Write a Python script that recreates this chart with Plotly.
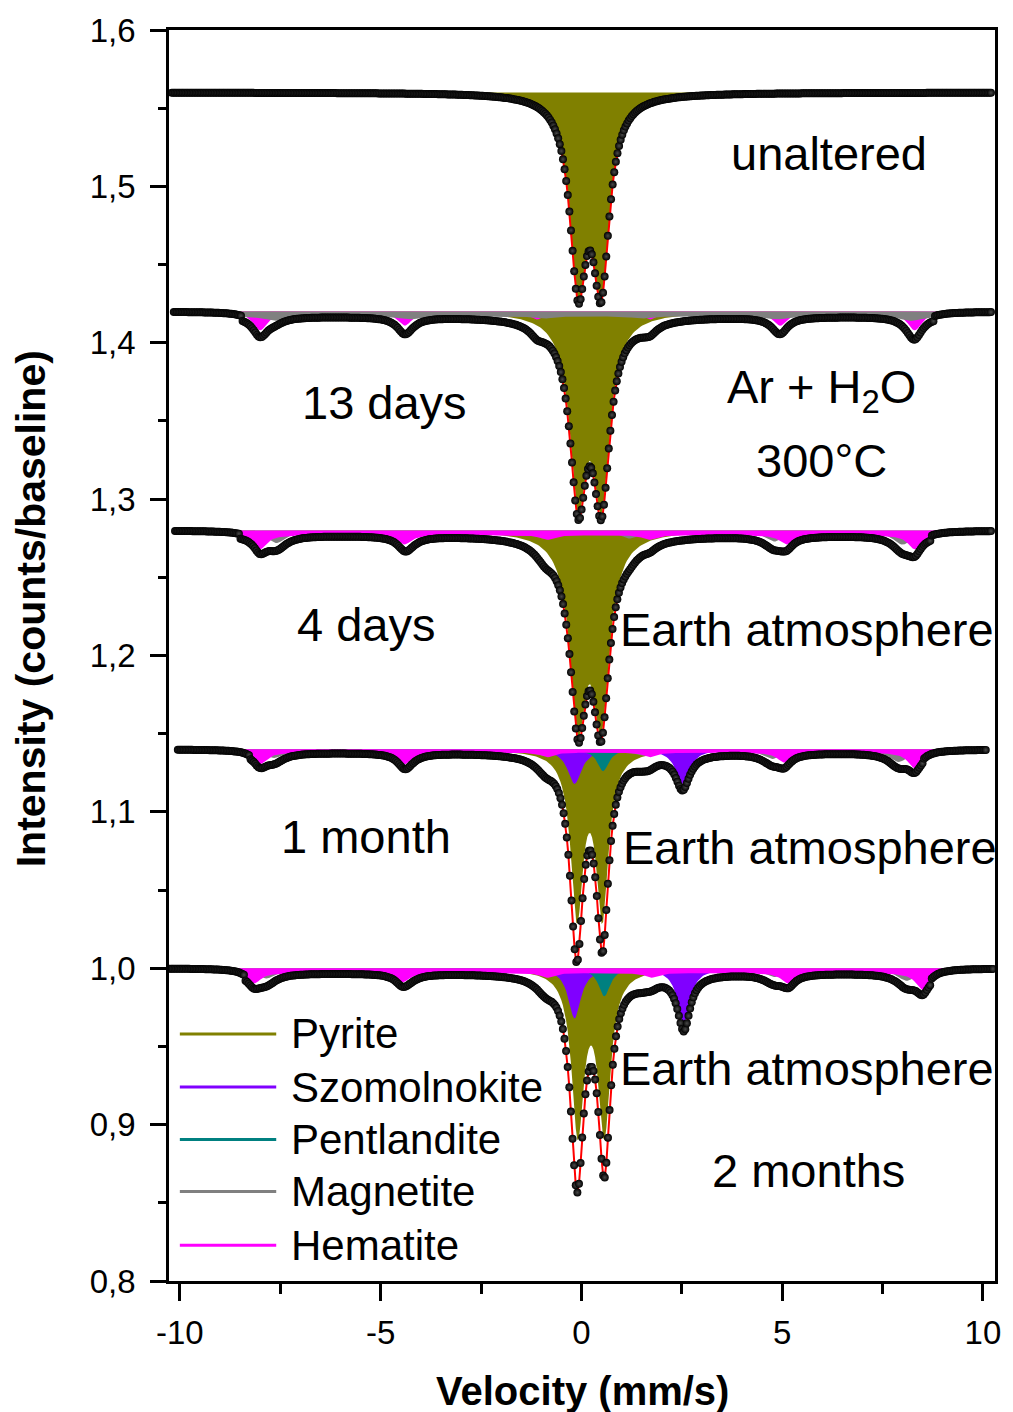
import numpy as np
import plotly.graph_objects as go

# ---------------------------------------------------------------------------
# Mössbauer spectra of the samples, stacked with a vertical offset
# ---------------------------------------------------------------------------
SAMPLES = ["unaltered", "13 days", "4 days", "1 month", "2 months"]
BASELINE = [1.56, 1.42, 1.28, 1.14, 1.00]
V_START = [-10.20, -10.15, -10.12, -10.05, -10.25]
V_END = [10.20, 10.20, 10.20, 10.07, 10.25]
N_CHANNELS = 512

# Fitted sub-spectra: line centres (mm/s), depths (relative), FWHM (mm/s)
PYRITE_CENTERS = [[-0.08, 0.49], [-0.08, 0.50], [-0.08, 0.49], [-0.11, 0.52], [-0.09, 0.57]]
PYRITE_DEPTH = [[0.116, 0.116], [0.112, 0.112], [0.113, 0.113], [0.104, 0.104], [0.103, 0.103]]
PYRITE_FWHM = [0.50, 0.50, 0.50, 0.37, 0.37]

SZOM_CENTERS = [[], [], [], [-0.17, 2.52], [-0.17, 2.55]]
SZOM_DEPTH = [[], [], [], [0.022, 0.022], [0.032, 0.035]]
SZOM_FWHM = [0, 0, 0, 0.42, 0.38]

PENT_CENTERS = [[], [], [], [0.54], [0.57]]
PENT_DEPTH = [[], [], [], [0.014], [0.018]]
PENT_FWHM = [0, 0, 0, 0.35, 0.35]

MAG_CENTERS = [
    [],
    [-7.65, -4.30, -0.95, 1.50, 4.86, 8.20],
    [-7.60, -4.30, -0.95, 1.20, 4.80, 8.00],
    [-7.65, -4.30, -0.95, 1.50, 4.75, 7.90],
    [-7.85, -4.30, -0.95, 1.50, 4.80, 8.10],
]
MAG_DEPTH = [
    [],
    [0.003, 0.002, 0.0015, 0.0015, 0.002, 0.003],
    [0.008, 0.004, 0.005, 0.005, 0.007, 0.009],
    [0.0055, 0.003, 0.004, 0.004, 0.006, 0.008],
    [0.0065, 0.003, 0.004, 0.004, 0.0055, 0.008],
]
MAG_FWHM = [0, 0.6, 0.6, 0.6, 0.6]
MAG_FLAT = [0, 0.003, 0, 0, 0]
MAG_FLAT_SPAN = [(0, 0), (-8.44, 8.77), (0, 0), (0, 0), (0, 0)]

HEM_CENTERS = [
    [],
    [-8.00, -4.40, -1.10, 1.70, 4.95, 8.30],
    [-8.00, -4.40, -0.85, 1.70, 5.10, 8.30],
    [-8.00, -4.40, -0.85, 1.70, 5.05, 8.30],
    [-8.15, -4.45, -0.85, 1.75, 5.15, 8.50],
]
HEM_DEPTH = [
    [],
    [0.012, 0.009, 0.005, 0.005, 0.009, 0.012],
    [0.009, 0.006, 0.003, 0.003, 0.006, 0.009],
    [0.0075, 0.0075, 0.003, 0.003, 0.0065, 0.010],
    [0.0067, 0.006, 0.003, 0.003, 0.0067, 0.011],
]
HEM_FWHM = [0, 0.45, 0.40, 0.40, 0.40]
HEM_FLAT = [0, 0, 0.003, 0.002, 0.003]
HEM_FLAT_SPAN = [(0, 0), (0, 0), (-8.50, 8.70), (-8.27, 8.50), (-8.40, 8.70)]

PHASES = ["Pyrite", "Szomolnokite", "Pentlandite", "Magnetite", "Hematite"]
PHASE_COLORS = ["#808000", "#8000ff", "#008080", "#808080", "#ff00ff"]
# stacking order of the filled sub-spectra for each sample
DRAW_ORDER = [
    ["Pyrite"],
    ["Pyrite", "Hematite", "Magnetite"],
    ["Pyrite", "Magnetite", "Hematite"],
    ["Pyrite", "Szomolnokite", "Pentlandite", "Magnetite", "Hematite"],
    ["Pyrite", "Szomolnokite", "Pentlandite", "Magnetite", "Hematite"],
]

X_TICKS = [-10, -5, 0, 5, 10]
X_TICK_TEXT = ["-10", "-5", "0", "5", "10"]

FONT = "Liberation Sans, Arial, sans-serif"


def lorentzians(v, centers, depths, fwhm):
    out = np.zeros_like(v)
    if not centers:
        return out
    hw = fwhm / 2.0
    for c, d in zip(centers, depths):
        out += d * hw ** 2 / ((v - c) ** 2 + hw ** 2)
    return out


def flat(v, depth, span):
    return np.where((v >= span[0]) & (v <= span[1]), depth, 0.0)


def absorption(phase, i, v):
    if phase == "Pyrite":
        return lorentzians(v, PYRITE_CENTERS[i], PYRITE_DEPTH[i], PYRITE_FWHM[i])
    if phase == "Szomolnokite":
        return lorentzians(v, SZOM_CENTERS[i], SZOM_DEPTH[i], SZOM_FWHM[i])
    if phase == "Pentlandite":
        return lorentzians(v, PENT_CENTERS[i], PENT_DEPTH[i], PENT_FWHM[i])
    if phase == "Magnetite":
        return (lorentzians(v, MAG_CENTERS[i], MAG_DEPTH[i], MAG_FWHM[i])
                + flat(v, MAG_FLAT[i], MAG_FLAT_SPAN[i]))
    return (lorentzians(v, HEM_CENTERS[i], HEM_DEPTH[i], HEM_FWHM[i])
            + flat(v, HEM_FLAT[i], HEM_FLAT_SPAN[i]))


fig = go.Figure()

for i, name in enumerate(SAMPLES):
    v = np.linspace(V_START[i], V_END[i], N_CHANNELS)
    base = BASELINE[i]
    total = np.zeros_like(v)
    for phase in PHASES:
        total += absorption(phase, i, v)

    # filled sub-spectra hanging from the baseline
    for phase in DRAW_ORDER[i]:
        comp = absorption(phase, i, v)
        if comp.max() <= 0:
            continue
        color = PHASE_COLORS[PHASES.index(phase)]
        xs = np.concatenate([[v[0]], v, [v[-1]]])
        ys = np.concatenate([[base], base - comp, [base]])
        fig.add_trace(go.Scatter(
            x=xs, y=ys, mode="lines", fill="toself", fillcolor=color,
            line=dict(width=0, color=color), hoverinfo="skip", showlegend=False,
        ))

    fit = base - total
    # envelope of the fit
    fig.add_trace(go.Scatter(
        x=v, y=fit, mode="lines", line=dict(color="#ff0000", width=2),
        hoverinfo="skip", showlegend=False,
    ))
    # measured counts
    fig.add_trace(go.Scatter(
        x=v, y=fit, mode="markers", name=name,
        marker=dict(size=8, color="#000000", line=dict(width=0),
                    gradient=dict(type="radial", color="#4a4a4a")),
        showlegend=False,
    ))

# Legend drawn as line samples with labels inside the plot
LEGEND_ROWS_Y = [0.958, 0.924, 0.8905, 0.8573, 0.8229]
shapes = []
annotations = []
for phase, color, yy in zip(PHASES, PHASE_COLORS, LEGEND_ROWS_Y):
    shapes.append(dict(type="line", xref="x", yref="y", x0=-10.0, x1=-7.6,
                       y0=yy, y1=yy, line=dict(color=color, width=3)))
    annotations.append(dict(x=-7.28, y=yy, xref="x", yref="y", text=phase,
                            showarrow=False, xanchor="left", yanchor="middle",
                            font=dict(family=FONT, size=42, color="black")))

LABELS = [
    ("unaltered", 6.17, 1.521),
    ("13 days", -4.91, 1.362),
    ("Ar + H<sub>2</sub>O", 5.98, 1.370),
    ("300°C", 5.98, 1.325),
    ("4 days", -5.36, 1.220),
    ("Earth atmosphere", 5.63, 1.2166),
    ("1 month", -5.36, 1.084),
    ("Earth atmosphere", 5.70, 1.077),
    ("Earth atmosphere", 5.63, 0.9357),
    ("2 months", 5.66, 0.8707),
]
for text, xx, yy in LABELS:
    annotations.append(dict(x=xx, y=yy, xref="x", yref="y", text=text,
                            showarrow=False, xanchor="center", yanchor="middle",
                            font=dict(family=FONT, size=47, color="black")))

# axis titles
annotations.append(dict(x=-0.167, y=0.537, xref="paper", yref="paper",
                        text="Intensity (counts/baseline)", textangle=-90,
                        showarrow=False, xanchor="center", yanchor="middle",
                        font=dict(family=FONT, size=41, color="black", weight="bold")))
annotations.append(dict(x=0.5, y=-0.0876, xref="paper", yref="paper",
                        text="Velocity (mm/s)", showarrow=False,
                        xanchor="center", yanchor="middle",
                        font=dict(family=FONT, size=40, color="black", weight="bold")))

fig.update_layout(
    width=1013, height=1412,
    margin=dict(l=169, r=12, t=26, b=131),
    paper_bgcolor="white", plot_bgcolor="white",
    separators=", ",
    showlegend=False,
    shapes=shapes,
    annotations=annotations,
    font=dict(family=FONT, color="black"),
)
fig.update_xaxes(
    range=[-10.27, 10.30], showgrid=False, zeroline=False,
    showline=True, linecolor="black", linewidth=2.5, mirror=True,
    ticks="outside", ticklen=17, tickwidth=2.5, tickcolor="black",
    tickmode="array", tickvals=X_TICKS, ticktext=X_TICK_TEXT,
    tickfont=dict(family=FONT, size=33, color="black"), ticklabelstandoff=4,
    minor=dict(ticks="outside", ticklen=10, tickwidth=2.5, tickcolor="black",
               tickmode="linear", tick0=0, dtick=2.5, showgrid=False),
)
fig.update_yaxes(
    range=[0.8, 1.6], showgrid=False, zeroline=False,
    showline=True, linecolor="black", linewidth=2.5, mirror=True,
    ticks="outside", ticklen=16, tickwidth=2.5, tickcolor="black",
    tick0=0.8, dtick=0.1, tickformat=".1f",
    tickfont=dict(family=FONT, size=33, color="black"), ticklabelstandoff=8,
    minor=dict(ticks="outside", ticklen=8, tickwidth=2.5, tickcolor="black",
               tick0=0.8, dtick=0.05, showgrid=False),
)

fig.write_html("out.html")
